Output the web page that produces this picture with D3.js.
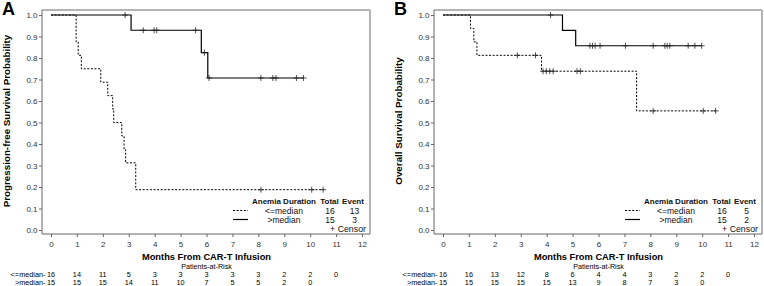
<!DOCTYPE html>
<html lang="en">
<head>
<meta charset="UTF-8">
<title>KM curves by anemia duration</title>
<script src="https://d3js.org/d3.v7.min.js"></script>
<style>
  body { margin: 0; padding: 0; background: #fff; }
  svg { display: block; font-family: 'Liberation Sans', Arial, sans-serif; }
</style>
</head>
<body>
<svg id="chart" width="764" height="286"></svg>
<script>
// ---- data ----
const monthTicks = [0, 1, 2, 3, 4, 5, 6, 7, 8, 9, 10, 11, 12];
const probTicks = [0, 0.1, 0.2, 0.3, 0.4, 0.5, 0.6, 0.7, 0.8, 0.9, 1.0];
const groups = ["<=median", ">median"];

// panel A : progression-free survival  [month, probability]
const pfsLow = [[0,1],[0.97,0.875],[1.05,0.8125],[1.17,0.75],[1.92,0.6875],[2.19,0.625],[2.38,0.5625],[2.42,0.5],[2.73,0.4375],[2.82,0.375],[2.88,0.3125],[3.27,0.1875],[10.52,0.1875]];
const pfsLowCensor = [[8.1,0.1875],[10.06,0.1875],[10.5,0.1875]];
const pfsHigh = [[0,1],[3.09,0.929],[5.8,0.825],[6.05,0.707],[9.74,0.707]];
const pfsHighCensor = [[2.86,1],[3.56,0.929],[3.98,0.929],[4.08,0.929],[5.58,0.929],[5.92,0.825],[6.1,0.707],[8.1,0.707],[8.56,0.707],[8.68,0.707],[9.47,0.707],[9.74,0.707]];
const pfsRiskLow = [16, 14, 11, 5, 3, 3, 3, 3, 3, 2, 2, 0];
const pfsRiskHigh = [15, 15, 15, 14, 11, 10, 7, 5, 5, 2, 0];
const pfsTotals = [16, 15];
const pfsEvents = [13, 3];

// panel B : overall survival
const osLow = [[0,1],[1.06,0.9375],[1.19,0.875],[1.31,0.8125],[3.8,0.7386],[7.47,0.554],[10.52,0.554]];
const osLowCensor = [[2.87,0.8125],[3.57,0.8125],[3.86,0.7386],[3.99,0.7386],[4.12,0.7386],[4.25,0.7386],[5.17,0.7386],[5.3,0.7386],[8.11,0.554],[10.04,0.554],[10.52,0.554]];
const osHigh = [[0,1],[4.61,0.9286],[5.12,0.857],[9.98,0.857]];
const osHighCensor = [[4.15,1],[5.67,0.857],[5.77,0.857],[5.87,0.857],[6.06,0.857],[7.04,0.857],[8.11,0.857],[8.56,0.857],[8.65,0.857],[8.75,0.857],[9.46,0.857],[9.72,0.857],[9.98,0.857]];
const osRiskLow = [16, 16, 13, 12, 8, 6, 4, 4, 3, 2, 2, 0];
const osRiskHigh = [15, 15, 15, 15, 15, 13, 9, 8, 7, 3, 0];
const osTotals = [16, 15];
const osEvents = [5, 2];

const svg = d3.select("#chart");

function drawPanel(cfg) {
  const ox = cfg.offset;
  const left = 42 + ox, right = 370 + ox, top = 10, bottom = 234;
  const x = d3.scaleLinear().domain([0, 12]).range([51 + ox, 362 + ox]);
  const y = d3.scaleLinear().domain([0, 1]).range([230, 15]);
  const g = svg.append("g");

  // frame: light top/right, darker axes
  g.append("line").attr("x1", left).attr("x2", right).attr("y1", top).attr("y2", top)
    .attr("stroke", "#b4b4b4").attr("stroke-width", 2);
  g.append("line").attr("x1", right).attr("x2", right).attr("y1", top).attr("y2", bottom)
    .attr("stroke", "#b4b4b4").attr("stroke-width", 2);

  const yAxis = g.append("g").attr("transform", "translate(" + left + ",0)")
    .call(d3.axisLeft(y).tickValues(probTicks).tickFormat(d3.format(".1f")).tickSize(3).tickSizeOuter(0));
  yAxis.select(".domain").attr("d", "M0," + top + "V" + bottom);
  const xAxis = g.append("g").attr("transform", "translate(0," + bottom + ")")
    .call(d3.axisBottom(x).tickValues(monthTicks).tickFormat(d3.format("d")).tickSize(3).tickSizeOuter(0));
  xAxis.select(".domain").attr("d", "M" + left + ",0H" + right);
  [yAxis, xAxis].forEach(a => {
    a.select(".domain").attr("stroke", "#666");
    a.selectAll(".tick line").attr("stroke", "#666");
    a.selectAll(".tick text").attr("font-size", 8).attr("fill", "#333")
      .attr("font-family", "'Liberation Sans', Arial, sans-serif");
  });
  yAxis.selectAll(".tick text").attr("x", -4.5);
  xAxis.selectAll(".tick text").attr("y", 7);

  // panel letter and axis titles
  g.append("text").attr("x", 2 + ox).attr("y", 14.5).attr("font-size", 18).attr("font-weight", "bold").text(cfg.letter);
  g.append("text").attr("transform", "translate(" + (cfg.ylabX + ox) + ",121) rotate(-90)")
    .attr("text-anchor", "middle").attr("font-size", 9.8).attr("font-weight", "bold").text(cfg.ylabel);
  g.append("text").attr("x", 206.5 + ox).attr("y", 259.8).attr("text-anchor", "middle")
    .attr("font-size", 9.3).attr("font-weight", "bold").text("Months From CAR-T Infusion");

  // curves
  const line = d3.line().x(d => x(d[0])).y(d => y(d[1])).curve(d3.curveStepAfter);
  const styles = [{dash: "2,1.6", w: 1}, {dash: null, w: 1.2}];
  [cfg.low, cfg.high].forEach((s, i) => {
    g.append("path").attr("d", line(s)).attr("fill", "none").attr("stroke", "#000")
      .attr("stroke-width", styles[i].w).attr("stroke-dasharray", styles[i].dash);
  });
  [cfg.lowCensor, cfg.highCensor].forEach(c => {
    g.selectAll(null).data(c).enter().append("path")
      .attr("d", d => "M" + (x(d[0]) - 3) + "," + y(d[1]) + "h6M" + x(d[0]) + "," + (y(d[1]) - 3) + "v6")
      .attr("stroke", "#222").attr("stroke-width", 0.8).attr("fill", "none");
  });

  // legend
  const lg = g.append("g").attr("font-size", 8.5).attr("fill", "#111");
  lg.append("text").attr("x", 284 + ox).attr("y", 203.5).attr("text-anchor", "middle").attr("font-weight", "bold")
    .attr("font-size", 8).text("Anemia Duration");
  lg.append("text").attr("x", 329.5 + ox).attr("y", 203.5).attr("text-anchor", "middle").attr("font-weight", "bold")
    .attr("font-size", 8).text("Total");
  lg.append("text").attr("x", 353 + ox).attr("y", 203.5).attr("text-anchor", "middle").attr("font-weight", "bold")
    .attr("font-size", 8).text("Event");
  const rowY = [210.5, 219.5];
  groups.forEach((grp, i) => {
    lg.append("line").attr("x1", 233 + ox).attr("x2", 248 + ox).attr("y1", rowY[i]).attr("y2", rowY[i])
      .attr("stroke", "#000").attr("stroke-width", styles[i].w).attr("stroke-dasharray", styles[i].dash);
    lg.append("text").attr("x", 284 + ox).attr("y", rowY[i] + 3).attr("text-anchor", "middle").text(grp);
    lg.append("text").attr("x", 330 + ox).attr("y", rowY[i] + 3).attr("text-anchor", "middle").text(cfg.totals[i]);
    lg.append("text").attr("x", 354.5 + ox).attr("y", rowY[i] + 3).attr("text-anchor", "middle").text(cfg.events[i]);
  });
  lg.append("text").attr("x", 366 + ox).attr("y", 231.5).attr("text-anchor", "end").attr("font-size", 8.8).text("+ Censor");

  // patients at risk
  g.append("text").attr("x", 206.5 + ox).attr("y", 268.8).attr("text-anchor", "middle")
    .attr("font-size", 7.2).text("Patients-at-Risk");
  const riskY = [277, 285.3];
  [cfg.riskLow, cfg.riskHigh].forEach((r, i) => {
    g.append("text").attr("x", 45.5 + ox).attr("y", riskY[i]).attr("text-anchor", "end")
      .attr("font-size", 7.3).text(groups[i] + "-");
    g.selectAll(null).data(r).enter().append("text")
      .attr("x", (d, k) => x(monthTicks[k])).attr("y", riskY[i]).attr("text-anchor", "middle")
      .attr("font-size", 7.3).text(d => d);
  });
}

drawPanel({offset: 0, letter: "A", ylabel: "Progression-free Survival Probability", ylabX: 9.8,
  low: pfsLow, high: pfsHigh, lowCensor: pfsLowCensor, highCensor: pfsHighCensor,
  riskLow: pfsRiskLow, riskHigh: pfsRiskHigh, totals: pfsTotals, events: pfsEvents});
drawPanel({offset: 392, letter: "B", ylabel: "Overall Survival Probability", ylabX: 9.8,
  low: osLow, high: osHigh, lowCensor: osLowCensor, highCensor: osHighCensor,
  riskLow: osRiskLow, riskHigh: osRiskHigh, totals: osTotals, events: osEvents});
</script>
</body>
</html>
